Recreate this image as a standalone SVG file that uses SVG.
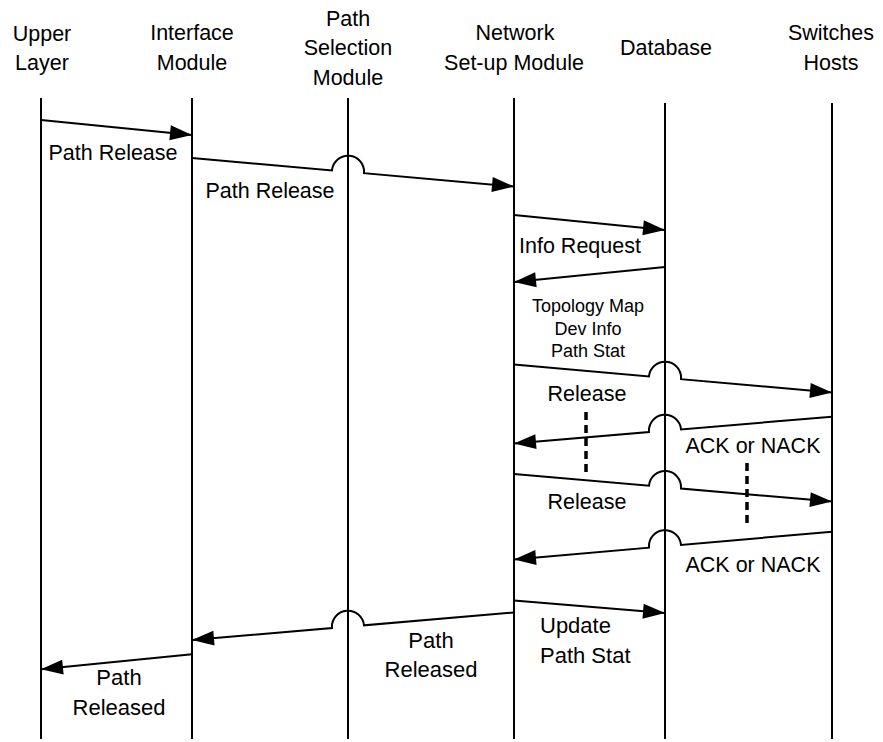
<svg xmlns="http://www.w3.org/2000/svg" width="883" height="742" viewBox="0 0 883 742">
  <style>
    text { font-family: "Liberation Sans", Arial, Helvetica, sans-serif; fill: #000; text-anchor: middle; }
    .hdr { font-size: 21.5px; }
    .lbl { font-size: 21.5px; }
    .sm { font-size: 18px; }
    .lo { font-size: 22px; }
    .life { stroke: #000; stroke-width: 2; fill: none; }
    .msg { stroke: #000; stroke-width: 2; fill: none; marker-end: url(#head); }
    .dash { stroke: #000; stroke-width: 3.5; stroke-dasharray: 8 5; fill: none; }
  </style>
  <defs>
    <marker id="head" markerUnits="userSpaceOnUse" markerWidth="22" markerHeight="15" refX="22" refY="7.5" orient="auto" overflow="visible">
      <path d="M0,0 L22,7.5 L0,15 Z" fill="#000"/>
    </marker>
  </defs>
  <rect width="883" height="742" fill="#fff"/>

  <!-- participants: header text and lifeline -->
  <g id="upper-layer">
    <text class="hdr" x="42" y="41">Upper</text>
    <text class="hdr" x="42" y="70">Layer</text>
    <line class="life" x1="41" y1="98" x2="41" y2="739"/>
  </g>
  <g id="interface-module">
    <text class="hdr" x="192" y="40">Interface</text>
    <text class="hdr" x="192" y="70">Module</text>
    <line class="life" x1="192" y1="98" x2="192" y2="739"/>
  </g>
  <g id="path-selection-module">
    <text class="hdr" x="348" y="26">Path</text>
    <text class="hdr" x="348" y="55">Selection</text>
    <text class="hdr" x="348" y="85">Module</text>
    <line class="life" x1="348" y1="98" x2="348" y2="739"/>
  </g>
  <g id="network-setup-module">
    <text class="hdr" x="515" y="40">Network</text>
    <text class="hdr" x="514" y="70">Set-up Module</text>
    <line class="life" x1="514" y1="98" x2="514" y2="739"/>
  </g>
  <g id="database">
    <text class="hdr" x="666" y="55">Database</text>
    <line class="life" x1="665" y1="103" x2="665" y2="739"/>
  </g>
  <g id="switches-hosts">
    <text class="hdr" x="831" y="40">Switches</text>
    <text class="hdr" x="831" y="70">Hosts</text>
    <line class="life" x1="832" y1="103" x2="832" y2="739"/>
  </g>

  <!-- messages (line jumps where they cross a lifeline) -->
  <g id="connectors">
    <path class="msg" d="M41,120 L192,135"/>
    <path class="msg" d="M192,158 L332,170.4 A16 16 0 0 1 364 173.2 L514,186.5"/>
    <path class="msg" d="M514,215 L665,230"/>
    <path class="msg" d="M665,267 L514,282"/>
    <path class="msg" d="M514,364.5 L649,376.4 A16 16 0 0 1 681 379.2 L832,392.5"/>
    <path class="msg" d="M832,416.7 L681,429.4 A16 16 0 0 0 649 432.1 L514,443.5"/>
    <path class="msg" d="M514,474 L649,485.7 A16 16 0 0 1 681 488.5 L832,501.5"/>
    <path class="msg" d="M832,531.7 L681,544.9 A16 16 0 0 0 649 547.7 L514,559.5"/>
    <path class="msg" d="M514,600.5 L665,613"/>
    <path class="msg" d="M514,612.5 L364,625.3 A16 16 0 0 0 332 628.1 L192,640"/>
    <path class="msg" d="M192,654.3 L41,669.3"/>
    <line class="dash" x1="586" y1="412" x2="586" y2="472"/>
    <line class="dash" x1="747" y1="463" x2="747" y2="525"/>
  </g>

  <!-- message labels -->
  <g id="labels">
    <text class="lbl" x="113" y="160">Path Release</text>
    <text class="lbl" x="270" y="198">Path Release</text>
    <text class="lbl" x="580" y="253">Info Request</text>
    <text class="sm" x="588" y="312">Topology Map</text>
    <text class="sm" x="588" y="334.5">Dev Info</text>
    <text class="sm" x="588" y="357">Path Stat</text>
    <text class="lbl" x="587" y="400.5">Release</text>
    <text class="lbl" x="753" y="452.5">ACK or NACK</text>
    <text class="lbl" x="587" y="509">Release</text>
    <text class="lbl" x="753" y="571.5">ACK or NACK</text>
    <text class="lo" x="540" y="633" text-anchor="start" style="text-anchor:start">Update</text>
    <text class="lo" x="540" y="662.5" style="text-anchor:start">Path Stat</text>
    <text class="lo" x="431" y="648">Path</text>
    <text class="lo" x="431" y="676.5">Released</text>
    <text class="lo" x="119" y="685">Path</text>
    <text class="lo" x="119" y="715">Released</text>
  </g>
</svg>
